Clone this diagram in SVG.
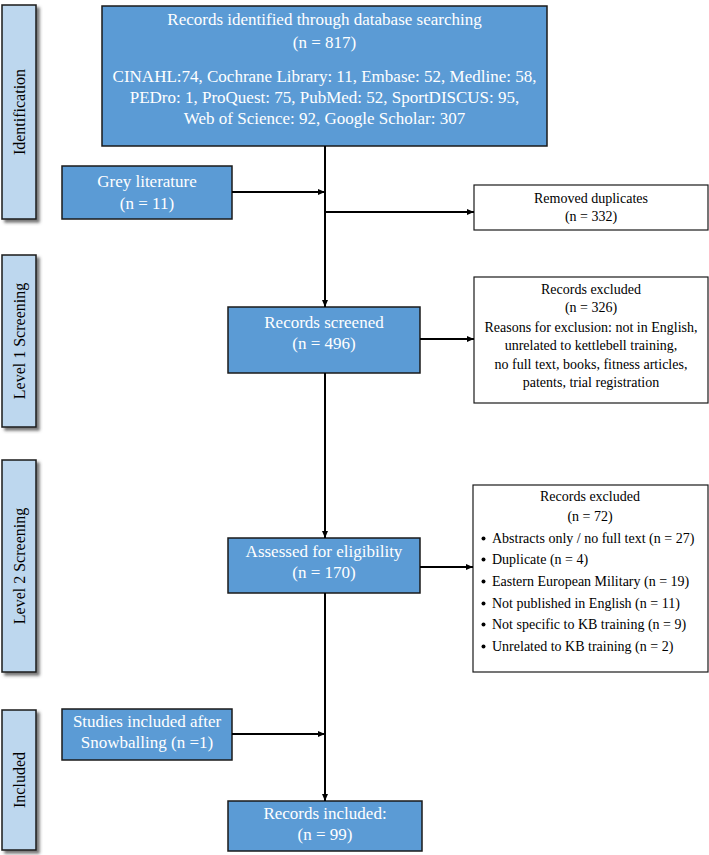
<svg xmlns="http://www.w3.org/2000/svg" width="709" height="855" viewBox="0 0 709 855">
<defs>
<filter id="sh" x="-20%" y="-10%" width="150%" height="130%">
<feDropShadow dx="3" dy="3" stdDeviation="1.5" flood-color="#555" flood-opacity="0.8"/>
</filter>
<marker id="ah" markerWidth="8" markerHeight="8" refX="7" refY="4" orient="auto" markerUnits="userSpaceOnUse">
<path d="M0,1 L7,4 L0,7 Z" fill="#000"/>
</marker>
<style>
.side{fill:#BDD7EE;stroke:#1a1a1a;stroke-width:1.5;filter:url(#sh)}
.blue{fill:#5B9BD5;stroke:#1a1a1a;stroke-width:1.5}
.white{fill:#fff;stroke:#1a1a1a;stroke-width:1.2}
.t{font-family:"Liberation Serif","Times New Roman",serif;text-anchor:middle}
.tw{fill:#fff;font-size:17px}
.tb{fill:#000;font-size:14px}
.ts{fill:#000;font-size:16px}
.bl{font-family:"Liberation Serif","Times New Roman",serif;fill:#000;font-size:14px}
.dot{fill:#000}
.c{stroke:#000;stroke-width:2;fill:none;marker-end:url(#ah)}
</style>
</defs>
<rect width="709" height="855" fill="#fff"/>

<g id="side-identification">
<rect class="side" x="2" y="5" width="34" height="214"/>
<text class="t ts" transform="translate(25,112) rotate(-90)">Identification</text>
</g>
<g id="side-level1">
<rect class="side" x="2" y="255" width="34" height="172"/>
<text class="t ts" transform="translate(25,341) rotate(-90)">Level 1 Screening</text>
</g>
<g id="side-level2">
<rect class="side" x="2" y="460" width="34" height="212"/>
<text class="t ts" transform="translate(25,566) rotate(-90)">Level 2 Screening</text>
</g>
<g id="side-included">
<rect class="side" x="2" y="710" width="34" height="140"/>
<text class="t ts" transform="translate(25,780) rotate(-90)">Included</text>
</g>

<g id="records-identified">
<rect class="blue" x="102" y="6" width="445" height="140"/>
<text class="t tw" x="324.5" y="25">Records identified through database searching</text>
<text class="t tw" x="324.5" y="48">(n = 817)</text>
<text class="t tw" x="324.5" y="82">CINAHL:74, Cochrane Library: 11, Embase: 52, Medline: 58,</text>
<text class="t tw" x="324.5" y="103">PEDro: 1, ProQuest: 75, PubMed: 52, SportDISCUS: 95,</text>
<text class="t tw" x="324.5" y="124">Web of Science: 92, Google Scholar: 307</text>
</g>

<g id="grey-literature">
<rect class="blue" x="62" y="166" width="170" height="53"/>
<text class="t tw" x="147" y="187">Grey literature</text>
<text class="t tw" x="147" y="209">(n = 11)</text>
</g>

<g id="removed-duplicates">
<rect class="white" x="474" y="185" width="234" height="45"/>
<text class="t tb" x="591" y="203">Removed duplicates</text>
<text class="t tb" x="591" y="221">(n = 332)</text>
</g>

<g id="records-screened">
<rect class="blue" x="228" y="307" width="192" height="66"/>
<text class="t tw" x="324" y="328">Records screened</text>
<text class="t tw" x="324" y="349">(n = 496)</text>
</g>

<g id="records-excluded-1">
<rect class="white" x="474" y="277" width="234" height="126"/>
<text class="t tb" x="591" y="294">Records excluded</text>
<text class="t tb" x="591" y="312">(n = 326)</text>
<text class="t tb" x="591" y="332">Reasons for exclusion: not in English,</text>
<text class="t tb" x="591" y="350">unrelated to kettlebell training,</text>
<text class="t tb" x="591" y="369">no full text, books, fitness articles,</text>
<text class="t tb" x="591" y="387">patents, trial registration</text>
</g>

<g id="assessed-eligibility">
<rect class="blue" x="228" y="538" width="192" height="55"/>
<text class="t tw" x="324" y="557">Assessed for eligibility</text>
<text class="t tw" x="324" y="578">(n = 170)</text>
</g>

<g id="records-excluded-2">
<rect class="white" x="473" y="485" width="235" height="187"/>
<text class="t tb" x="590" y="501">Records excluded</text>
<text class="t tb" x="590" y="521">(n = 72)</text>
<circle class="dot" cx="483.5" cy="538.5" r="2"/><text class="bl" x="492" y="543">Abstracts only / no full text (n = 27)</text>
<circle class="dot" cx="483.5" cy="559.5" r="2"/><text class="bl" x="492" y="564">Duplicate (n = 4)</text>
<circle class="dot" cx="483.5" cy="581.5" r="2"/><text class="bl" x="492" y="586">Eastern European Military (n = 19)</text>
<circle class="dot" cx="483.5" cy="603.5" r="2"/><text class="bl" x="492" y="608">Not published in English (n = 11)</text>
<circle class="dot" cx="483.5" cy="624.5" r="2"/><text class="bl" x="492" y="629">Not specific to KB training (n = 9)</text>
<circle class="dot" cx="483.5" cy="646.5" r="2"/><text class="bl" x="492" y="651">Unrelated to KB training (n = 2)</text>
</g>

<g id="snowballing">
<rect class="blue" x="62" y="709" width="170" height="51"/>
<text class="t tw" x="147" y="727">Studies included after</text>
<text class="t tw" x="147" y="748">Snowballing (n =1)</text>
</g>

<g id="records-included">
<rect class="blue" x="228" y="801" width="194" height="50"/>
<text class="t tw" x="325" y="819">Records included:</text>
<text class="t tw" x="325" y="840">(n = 99)</text>
</g>

<g id="connectors">
<line class="c" x1="325" y1="146" x2="325" y2="307"/>
<line class="c" x1="232" y1="192" x2="325" y2="192"/>
<line class="c" x1="325" y1="212" x2="474" y2="212"/>
<line class="c" x1="420" y1="339" x2="474" y2="339"/>
<line class="c" x1="325" y1="373" x2="325" y2="538"/>
<line class="c" x1="420" y1="567" x2="473" y2="567"/>
<line class="c" x1="325" y1="593" x2="325" y2="801"/>
<line class="c" x1="232" y1="734" x2="325" y2="734"/>
</g>
</svg>
